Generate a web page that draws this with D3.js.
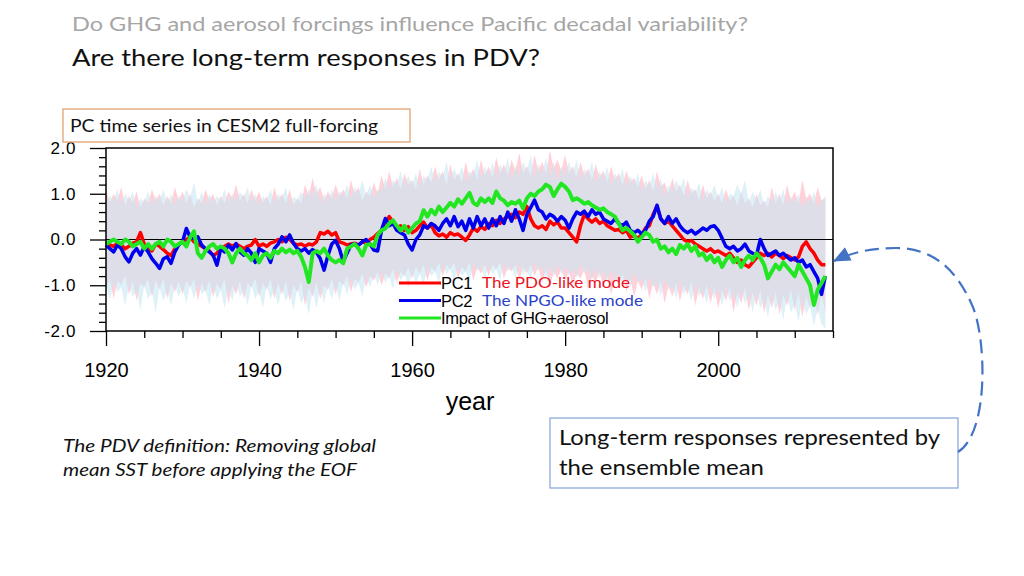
<!DOCTYPE html>
<html><head><meta charset="utf-8">
<script src="https://cdn.jsdelivr.net/npm/d3@7"></script>
<style>body{margin:0;background:#fff}svg{display:block}</style>
</head><body><svg id="c" width="1024" height="576"></svg>
<script>
// ---- data (half-year resolution, starting 1920.0) ----
const seriesStart = 1920, seriesStep = 0.5;
const pc1 = [
 -0.05,-0.12,-0.15,-0.08,-0.12,-0.2,-0.15,-0.08,-0.05,0.15,-0.1,-0.2,-0.25,-0.1,-0.15,-0.22,-0.3,-0.35,-0.2,-0.1,
 -0.05,0.0,0.05,-0.05,-0.1,-0.15,-0.2,-0.25,-0.35,-0.3,-0.2,-0.15,-0.1,-0.15,-0.1,-0.15,-0.2,-0.15,-0.12,0.0,
 -0.15,-0.1,-0.15,-0.08,-0.05,0.0,-0.05,0.05,0.0,-0.08,-0.12,-0.1,-0.15,-0.1,-0.12,-0.05,0.15,0.12,0.18,0.1,
 0.15,-0.05,-0.08,-0.12,-0.1,-0.08,-0.12,-0.05,-0.08,0.0,0.05,0.13,0.2,0.35,0.5,0.38,0.25,0.3,0.2,0.28,
 0.15,0.2,0.3,0.38,0.25,0.32,0.15,0.08,0.12,0.05,0.15,0.1,0.12,0.05,-0.02,0.1,0.25,0.18,0.28,0.22,
 0.35,0.3,0.42,0.35,0.45,0.5,0.55,0.48,0.6,0.55,0.72,0.45,0.3,0.25,0.3,0.22,0.4,0.32,0.38,0.25,
 0.25,0.15,0.05,-0.05,0.3,0.55,0.45,0.38,0.45,0.35,0.4,0.3,0.25,0.2,0.22,0.15,0.2,0.05,0.08,0.03,
 0.1,0.25,0.3,0.55,0.72,0.45,0.35,0.4,0.3,0.2,0.1,0.0,-0.05,-0.02,-0.1,-0.15,-0.2,-0.25,-0.2,-0.28,
 -0.25,-0.3,-0.35,-0.3,-0.4,-0.5,-0.45,-0.55,-0.6,-0.5,-0.4,-0.3,-0.35,-0.3,-0.38,-0.3,-0.35,-0.42,-0.35,-0.4,
 -0.45,-0.38,-0.15,-0.05,-0.2,-0.3,-0.45,-0.55,-0.55
];
const pc2 = [
 -0.12,-0.2,-0.27,-0.12,-0.2,-0.38,-0.49,-0.3,-0.2,-0.34,-0.16,-0.27,-0.42,-0.52,-0.63,-0.42,-0.38,-0.52,-0.27,-0.12,
 -0.05,0.24,0.05,0.02,0.06,-0.12,-0.2,-0.27,-0.34,-0.56,-0.2,-0.27,-0.12,-0.23,-0.09,-0.27,-0.34,-0.2,-0.3,-0.5,
 -0.2,-0.25,-0.3,-0.5,-0.2,-0.1,0.06,-0.05,0.1,-0.08,-0.2,-0.25,-0.2,-0.3,-0.22,-0.28,-0.42,-0.67,-0.35,-0.1,
 -0.02,-0.2,-0.49,-0.3,-0.12,-0.1,-0.12,-0.05,0.0,-0.1,-0.23,-0.25,0.2,0.46,0.3,0.35,0.2,0.15,0.1,-0.1,
 -0.23,0.0,0.1,0.3,0.25,0.35,0.3,0.2,0.35,0.45,0.3,0.5,0.28,0.4,0.2,0.45,0.25,0.5,0.3,0.45,
 0.25,0.45,0.3,0.5,0.35,0.6,0.4,0.65,0.45,0.2,0.55,0.7,0.86,0.65,0.6,0.45,0.55,0.5,0.4,0.5,
 0.42,0.25,0.45,0.6,0.55,0.62,0.5,0.65,0.55,0.6,0.45,0.4,0.35,0.45,0.35,0.3,0.38,0.2,0.15,0.2,
 0.12,0.2,0.4,0.5,0.75,0.45,0.35,0.5,0.35,0.45,0.3,0.2,0.15,0.2,0.12,0.18,0.25,0.2,0.28,0.3,
 0.2,0.03,-0.15,-0.2,-0.15,-0.25,-0.2,-0.1,-0.25,-0.3,-0.35,0.0,-0.2,-0.35,-0.3,-0.25,-0.35,-0.3,-0.38,-0.45,
 -0.4,-0.5,-0.45,-0.6,-0.55,-0.7,-0.85,-1.2,-0.8
];
const forced = [
 -0.1,-0.05,0.0,-0.05,-0.1,0.0,-0.05,-0.15,-0.1,-0.05,-0.2,-0.1,-0.2,-0.1,-0.05,-0.15,0.0,-0.05,-0.15,-0.1,
 -0.05,-0.15,0.05,0.18,-0.3,-0.4,-0.25,-0.15,-0.1,-0.2,-0.15,-0.2,-0.3,-0.5,-0.3,-0.2,-0.3,-0.35,-0.45,-0.3,
 -0.5,-0.35,-0.3,-0.4,-0.25,-0.3,-0.2,-0.28,-0.22,-0.3,-0.25,-0.38,-0.6,-0.93,-0.3,-0.25,-0.3,-0.2,-0.35,-0.45,
 -0.5,-0.45,-0.52,-0.2,-0.15,-0.1,-0.2,-0.35,-0.12,-0.1,-0.15,0.1,0.2,0.24,0.35,0.42,0.3,0.2,0.3,0.15,
 0.25,0.35,0.4,0.64,0.5,0.65,0.55,0.72,0.6,0.7,0.8,0.72,0.88,0.78,0.9,1.02,0.8,0.75,0.9,0.82,
 0.9,0.8,1.05,0.9,0.85,0.75,0.82,0.78,0.85,0.68,0.9,1.0,0.95,1.05,1.1,1.2,1.15,0.95,1.1,1.22,
 1.15,1.05,0.86,0.9,0.85,0.78,0.82,0.75,0.7,0.65,0.68,0.6,0.55,0.5,0.35,0.2,0.25,0.18,0.1,-0.05,
 0.05,0.15,0.1,-0.05,0.0,-0.2,-0.15,-0.28,-0.2,-0.32,-0.12,-0.2,-0.1,-0.25,-0.15,-0.35,-0.3,-0.45,-0.35,-0.5,
 -0.4,-0.6,-0.45,-0.35,-0.5,-0.4,-0.6,-0.45,-0.35,-0.45,-0.3,-0.4,-0.55,-0.85,-0.7,-0.55,-0.65,-0.5,-0.6,-0.7,
 -0.8,-0.55,-0.7,-0.85,-1.0,-1.43,-1.1,-0.95,-0.8
];
// ensemble spread envelopes (half-year, starting 1920.0)
const pc1Upper = [
 1.1,0.8,1.0,0.85,1.15,0.75,0.95,0.8,1.05,0.7,0.9,0.8,1.1,0.85,1.0,0.75,0.95,0.8,1.15,0.85,
 1.05,0.8,1.0,0.7,0.9,0.8,1.1,0.85,1.0,0.75,0.95,0.8,1.05,0.9,1.2,0.85,1.0,0.8,1.1,0.85,
 1.05,0.8,0.95,0.75,1.15,0.85,1.0,0.8,1.1,0.75,0.9,0.8,1.2,0.95,1.35,1.0,1.15,0.85,1.05,0.9,
 1.2,0.95,1.1,0.9,1.3,1.0,1.15,0.85,1.05,0.95,1.25,1.0,1.4,1.1,1.5,1.15,1.35,1.1,1.45,1.2,
 1.3,1.1,1.55,1.2,1.4,1.25,1.6,1.3,1.5,1.2,1.65,1.3,1.45,1.25,1.7,1.35,1.55,1.3,1.75,1.4,
 1.6,1.35,1.8,1.45,1.65,1.4,1.75,1.5,1.9,1.45,1.6,1.4,1.85,1.5,1.7,1.45,1.95,1.55,1.75,1.5,
 1.85,1.45,1.6,1.35,1.7,1.4,1.55,1.3,1.65,1.35,1.5,1.25,1.6,1.3,1.45,1.2,1.5,1.25,1.35,1.15,
 1.4,1.1,1.3,1.05,1.5,1.15,1.25,1.0,1.35,1.05,1.2,0.95,1.3,1.0,1.1,0.85,1.2,0.9,1.05,0.85,
 1.0,0.8,1.1,0.85,0.95,0.75,1.05,0.8,0.9,0.7,1.0,0.75,0.85,0.7,1.15,0.8,1.0,0.75,1.2,0.85,
 1.05,0.8,1.3,0.9,1.0,0.8,1.15,0.85,0.9
];
const pc1Lower = [
 -1.1,-0.85,-1.3,-0.9,-1.0,-0.8,-1.2,-0.9,-1.35,-0.95,-1.05,-0.85,-1.25,-0.9,-1.1,-0.85,-1.3,-0.95,-1.15,-0.9,
 -1.2,-0.9,-1.05,-0.85,-1.35,-0.95,-1.15,-0.9,-1.25,-0.95,-1.1,-0.85,-1.4,-1.0,-1.2,-0.9,-1.3,-0.95,-1.05,-0.85,
 -1.25,-0.95,-1.1,-0.85,-1.3,-0.95,-1.2,-0.9,-1.35,-1.0,-1.15,-0.9,-1.45,-1.05,-1.25,-0.95,-1.3,-1.0,-1.1,-0.85,
 -1.2,-0.9,-1.0,-0.8,-1.15,-0.85,-0.95,-0.75,-1.05,-0.8,-0.9,-0.7,-1.0,-0.75,-0.85,-0.65,-0.95,-0.7,-0.8,-0.6,
 -0.85,-0.6,-0.75,-0.55,-0.9,-0.6,-0.7,-0.5,-0.8,-0.55,-0.65,-0.5,-0.85,-0.6,-0.7,-0.5,-0.9,-0.6,-0.75,-0.55,
 -0.8,-0.55,-0.65,-0.5,-0.85,-0.6,-0.7,-0.55,-0.9,-0.6,-0.75,-0.55,-0.8,-0.6,-0.95,-0.65,-1.05,-0.7,-0.85,-0.65,
 -0.9,-0.7,-1.0,-0.75,-0.85,-0.65,-1.1,-0.8,-0.95,-0.7,-1.05,-0.8,-1.2,-0.85,-1.0,-0.75,-1.15,-0.85,-1.25,-0.9,
 -1.1,-0.85,-1.3,-0.95,-1.2,-0.9,-1.4,-1.0,-1.25,-0.95,-1.35,-1.0,-1.2,-0.9,-1.45,-1.05,-1.3,-1.0,-1.4,-1.05,
 -1.5,-1.1,-1.35,-1.05,-1.6,-1.15,-1.4,-1.05,-1.55,-1.15,-1.45,-1.1,-1.6,-1.2,-1.5,-1.15,-1.65,-1.2,-1.45,-1.1,
 -1.55,-1.15,-1.7,-1.25,-1.5,-1.15,-1.65,-1.2,-1.6
];
const pc2Upper = [
 0.8,0.95,0.85,1.1,0.75,1.0,0.85,1.05,0.7,0.9,0.8,1.05,0.75,0.95,0.85,1.1,0.8,1.0,0.75,0.95,
 0.85,1.1,0.9,1.25,0.8,1.05,0.75,1.0,0.8,0.95,0.85,1.1,0.8,1.0,0.85,1.05,0.9,1.15,0.8,1.0,
 0.75,0.95,0.85,1.1,0.8,1.0,0.9,1.15,0.75,0.95,0.85,1.05,0.9,1.1,0.95,1.2,0.8,1.0,0.85,1.1,
 0.85,1.05,0.95,1.2,0.9,1.15,1.0,1.3,0.95,1.2,0.9,1.1,1.05,1.35,1.1,1.3,1.2,1.5,1.15,1.4,
 1.2,1.45,1.15,1.4,1.3,1.6,1.25,1.5,1.35,1.7,1.3,1.55,1.35,1.6,1.25,1.5,1.4,1.75,1.35,1.6,
 1.4,1.7,1.35,1.65,1.45,1.8,1.3,1.6,1.4,1.7,1.5,1.85,1.35,1.65,1.45,1.8,1.4,1.7,1.3,1.6,
 1.4,1.7,1.45,1.75,1.3,1.55,1.4,1.7,1.25,1.5,1.3,1.6,1.2,1.45,1.3,1.55,1.15,1.4,1.2,1.45,
 1.05,1.3,1.15,1.45,1.1,1.35,0.95,1.2,1.05,1.3,1.1,1.35,0.9,1.15,1.0,1.25,0.85,1.1,0.95,1.2,
 0.9,1.15,0.8,1.0,0.95,1.2,1.0,1.3,0.8,1.05,0.85,1.1,0.75,0.95,0.8,1.05,0.85,1.1,0.75,0.95,
 0.8,1.0,0.7,0.9,0.8,1.05,0.7,0.85,0.95
];
const pc2Lower = [
 -1.0,-1.3,-0.95,-1.15,-1.05,-1.45,-1.0,-1.25,-1.1,-1.55,-1.0,-1.3,-1.15,-1.6,-1.05,-1.35,-1.1,-1.45,-1.0,-1.25,
 -1.05,-1.4,-1.0,-1.3,-0.95,-1.2,-1.1,-1.45,-1.0,-1.3,-1.1,-1.5,-1.05,-1.35,-0.95,-1.25,-1.1,-1.45,-1.0,-1.3,
 -1.1,-1.5,-1.0,-1.3,-1.1,-1.45,-1.05,-1.35,-1.15,-1.55,-1.05,-1.4,-1.2,-1.65,-1.1,-1.5,-1.05,-1.4,-1.0,-1.3,
 -1.0,-1.35,-0.95,-1.2,-0.85,-1.1,-0.95,-1.25,-0.8,-1.05,-0.75,-1.0,-0.7,-0.95,-0.8,-1.1,-0.65,-0.9,-0.75,-1.05,
 -0.7,-0.95,-0.75,-1.0,-0.6,-0.8,-0.7,-0.95,-0.55,-0.75,-0.65,-0.9,-0.6,-0.8,-0.7,-0.95,-0.5,-0.7,-0.6,-0.85,
 -0.55,-0.75,-0.65,-0.9,-0.5,-0.7,-0.6,-0.85,-0.55,-0.75,-0.65,-0.9,-0.5,-0.7,-0.6,-0.85,-0.6,-0.8,-0.55,-0.75,
 -0.6,-0.8,-0.65,-0.85,-0.55,-0.75,-0.65,-0.9,-0.6,-0.85,-0.7,-0.95,-0.65,-0.9,-0.75,-1.0,-0.8,-1.05,-0.7,-0.95,
 -0.85,-1.15,-0.8,-1.05,-0.95,-1.25,-0.85,-1.1,-1.0,-1.3,-0.9,-1.2,-1.05,-1.35,-0.95,-1.25,-1.1,-1.4,-1.0,-1.3,
 -1.1,-1.45,-1.05,-1.35,-1.15,-1.5,-1.1,-1.4,-1.2,-1.6,-1.15,-1.5,-1.3,-1.7,-1.2,-1.55,-1.35,-1.75,-1.25,-1.6,
 -1.4,-1.8,-1.3,-1.65,-1.45,-1.9,-1.5,-1.85,-1.95
];
const yMajor = [-2, -1, 0, 1, 2];
const xMajor = [1920, 1940, 1960, 1980, 2000];
const legendItems = [
  {key: "PC1", note: "The PDO-like mode", color: "#ff0000", noteColor: "#e8141e"},
  {key: "PC2", note: "The NPGO-like mode", color: "#0000ee", noteColor: "#2a44c8"},
  {key: "Impact of GHG+aerosol", note: "", color: "#22e622", noteColor: "#000"}
];
const noteWidths = [148, 161, 0];

// ---- drawing ----
const svg = d3.select("#c");
const x = d3.scaleLinear().domain([1920, 2015]).range([106, 833]);
const y = d3.scaleLinear().domain([-2, 2]).range([331, 148]);
const sans = "'Liberation Sans', Arial, Helvetica, sans-serif";
const cal = "Lato, 'Open Sans', sans-serif";

const toPts = (arr) => arr.map((v, i) => [seriesStart + i * seriesStep, v]);

// titles
svg.append("text").attr("x", 72).attr("y", 31).attr("font-family", cal).attr("font-size", 20)
  .attr("fill", "#a6a6a6").attr("textLength", 676).attr("lengthAdjust", "spacingAndGlyphs")
  .text("Do GHG and aerosol forcings influence Pacific decadal variability?");
svg.append("text").attr("x", 72).attr("y", 66).attr("font-family", cal).attr("font-size", 24)
  .attr("fill", "#111").attr("textLength", 468).attr("lengthAdjust", "spacingAndGlyphs")
  .text("Are there long-term responses in PDV?");

// bands
const bandPts = (up, lo) => up.map((u, i) => ({t: seriesStart + i * seriesStep, u, l: lo[i]}));
const area = d3.area().x(d => x(d.t)).y0(d => y(d.l)).y1(d => y(d.u));
svg.append("path").attr("d", area(bandPts(pc1Upper, pc1Lower))).attr("fill", "#ffd2da");
svg.append("path").attr("d", area(bandPts(pc2Upper, pc2Lower))).attr("fill", "#c8e6f4").attr("fill-opacity", 0.6);

// zero line
svg.append("line").attr("x1", x(1920)).attr("x2", x(2015)).attr("y1", y(0)).attr("y2", y(0))
  .attr("stroke", "#000").attr("stroke-width", 1);

// series
const line = d3.line().x(d => x(d[0])).y(d => y(d[1]));
[[pc1, "#ff0000", 3.5], [pc2, "#0000ee", 3.5], [forced, "#22e622", 4]].forEach(([arr, c, w]) => {
  svg.append("path").attr("d", line(toPts(arr)))
    .attr("fill", "none").attr("stroke", c).attr("stroke-width", w).attr("stroke-linejoin", "round");
});

// frame
svg.append("rect").attr("x", x(1920)).attr("y", y(2)).attr("width", x(2015) - x(1920)).attr("height", y(-2) - y(2))
  .attr("fill", "none").attr("stroke", "#000").attr("stroke-width", 1.5);

// axes
const yMinor = d3.range(-2, 2.001, 0.2).filter(v => Math.abs(v - Math.round(v)) > 1e-6);
const gyMin = svg.append("g").attr("transform", `translate(${x(1920)},0)`)
  .call(d3.axisLeft(y).tickValues(yMinor).tickSize(7).tickFormat(""));
const gy = svg.append("g").attr("transform", `translate(${x(1920)},0)`)
  .call(d3.axisLeft(y).tickValues(yMajor).tickSize(16).tickPadding(14).tickFormat(d => d.toFixed(1)));
const xMinor = d3.range(1925, 2016, 5).filter(v => v % 20 !== 0);
const gxMin = svg.append("g").attr("transform", `translate(0,${y(-2)})`)
  .call(d3.axisBottom(x).tickValues(xMinor).tickSize(7).tickFormat(""));
const gx = svg.append("g").attr("transform", `translate(0,${y(-2)})`)
  .call(d3.axisBottom(x).tickValues(xMajor).tickSize(15).tickPadding(17).tickFormat(d3.format("d")));
[gyMin, gy, gxMin, gx].forEach(g => {
  g.select(".domain").remove();
  g.selectAll(".tick line").attr("stroke", "#000").attr("stroke-width", 1.3);
});
gy.selectAll("text").attr("font-family", sans).attr("font-size", 17).attr("fill", "#000").attr("letter-spacing", 0.6);
gx.selectAll("text").attr("font-family", sans).attr("font-size", 20).attr("fill", "#000");
svg.append("text").attr("x", 470).attr("y", 410).attr("text-anchor", "middle").attr("font-family", sans)
  .attr("font-size", 25).attr("fill", "#000").text("year");

// legend
const lg = svg.append("g");
legendItems.forEach((d, i) => {
  const ly = 283 + i * 17.5;
  lg.append("line").attr("x1", 399).attr("x2", 441).attr("y1", ly).attr("y2", ly)
    .attr("stroke", d.color).attr("stroke-width", 3);
  lg.append("text").attr("x", 441).attr("y", ly + 6).attr("font-family", sans).attr("font-size", 16.5)
    .attr("fill", "#000").attr("letter-spacing", -0.3).text(d.key);
  if (d.note) {
    lg.append("text").attr("x", 482).attr("y", ly + 5).attr("font-family", cal).attr("font-size", 15.5)
      .attr("fill", d.noteColor).attr("textLength", noteWidths[i]).attr("lengthAdjust", "spacingAndGlyphs")
      .text(d.note);
  }
});

// top-left label box
svg.append("rect").attr("x", 63).attr("y", 109).attr("width", 347).attr("height", 33)
  .attr("fill", "#fff").attr("stroke", "#e3a272").attr("stroke-width", 1.3);
svg.append("text").attr("x", 70).attr("y", 132).attr("font-family", cal).attr("font-size", 17)
  .attr("fill", "#111").attr("textLength", 308).attr("lengthAdjust", "spacingAndGlyphs")
  .text("PC time series in CESM2 full-forcing");

// bottom-left note
svg.append("text").attr("x", 63).attr("y", 452).attr("font-family", cal).attr("font-size", 18)
  .attr("font-style", "italic").attr("fill", "#111").attr("textLength", 313).attr("lengthAdjust", "spacingAndGlyphs")
  .text("The PDV definition: Removing global");
svg.append("text").attr("x", 63).attr("y", 476).attr("font-family", cal).attr("font-size", 18)
  .attr("font-style", "italic").attr("fill", "#111").attr("textLength", 294).attr("lengthAdjust", "spacingAndGlyphs")
  .text("mean SST before applying the EOF");

// bottom-right box
svg.append("rect").attr("x", 550).attr("y", 418).attr("width", 408).attr("height", 70)
  .attr("fill", "#fff").attr("stroke", "#8eaadb").attr("stroke-width", 1.3);
svg.append("text").attr("x", 559).attr("y", 445).attr("font-family", cal).attr("font-size", 22)
  .attr("fill", "#111").attr("textLength", 381).attr("lengthAdjust", "spacingAndGlyphs")
  .text("Long-term responses represented by");
svg.append("text").attr("x", 559).attr("y", 475).attr("font-family", cal).attr("font-size", 22)
  .attr("fill", "#111").attr("textLength", 205).attr("lengthAdjust", "spacingAndGlyphs")
  .text("the ensemble mean");

// dashed curved arrow
const defs = svg.append("defs");
defs.append("marker").attr("id", "ah").attr("markerUnits", "userSpaceOnUse")
  .attr("markerWidth", 17).attr("markerHeight", 15).attr("refX", 16).attr("refY", 7.5).attr("orient", "auto")
  .append("path").attr("d", "M0,0 L17,7.5 L0,15 Z").attr("fill", "#4472c4");
svg.append("path")
  .attr("d", "M958,452 C990,432 986,335 972,305 C955,266 930,248 896,248 C868,248 848,254 834,261")
  .attr("fill", "none").attr("stroke", "#4472c4").attr("stroke-width", 2.2)
  .attr("stroke-dasharray", "14,7").attr("marker-end", "url(#ah)");
</script></body></html>
